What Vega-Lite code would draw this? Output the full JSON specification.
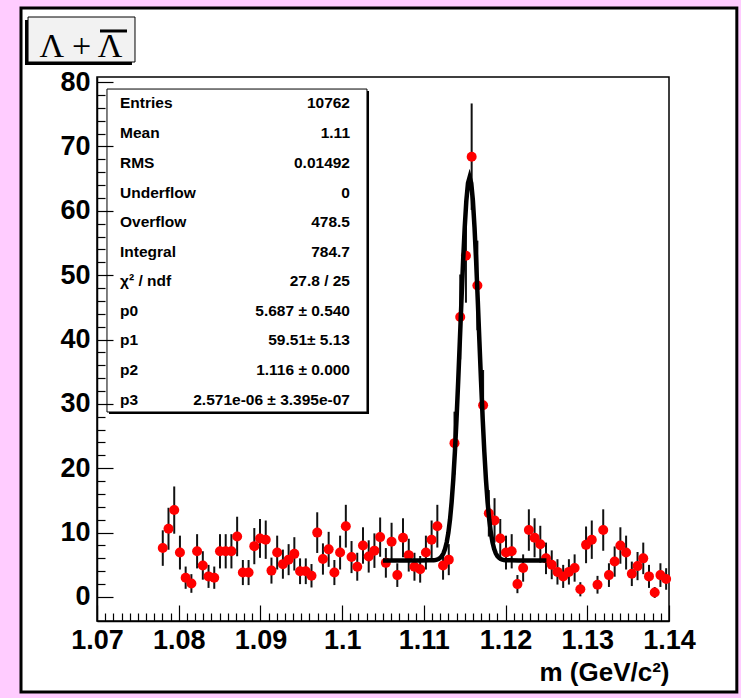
{
  "$schema": "https://vega.github.io/schema/vega-lite/v6.json",
  "width": 572,
  "height": 544,
  "autosize": "none",
  "padding": {"left": 97, "top": 77, "right": 72, "bottom": 77},
  "background": "#ffccff",
  "config": {
    "view": {"stroke": null, "fill": null},
    "axis": {"grid": false, "domainColor": "black", "domainWidth": 1.5, "tickColor": "black", "tickWidth": 1.2, "labelColor": "black", "titleColor": "black"}
  },
  "datasets": {
    "pad": [{"x": 1.0607, "x2": 1.1483, "y": -14.76, "y2": 91.5}],
    "frame": [{"x": 1.07, "x2": 1.14, "y": -3.73, "y2": 80.78}],
    "titleshadow": [{"x": 1.06119, "x2": 1.07428, "y": 82.64, "y2": 89.63}],
    "titlebox": [{"x": 1.06156, "x2": 1.07465, "y": 83.11, "y2": 90.10}],
    "titletext": [{"x": 1.06804, "y": 83.96, "label": "Λ + Λ"}],
    "titlebar": [{"x": 1.070367, "x2": 1.073671, "y": 87.93}],
    "statsshadow": [{"x": 1.07147, "x2": 1.10329, "y": 28.43, "y2": 78.60}],
    "statsbox": [{"x": 1.07122, "x2": 1.10304, "y": 28.74, "y2": 78.91}],
    "statslabels": [
      {"x": 1.072815, "y": 76.74, "text": "Entries"},
      {"x": 1.072815, "y": 72.08, "text": "Mean"},
      {"x": 1.072815, "y": 67.42, "text": "RMS"},
      {"x": 1.072815, "y": 62.76, "text": "Underflow"},
      {"x": 1.072815, "y": 58.25, "text": "Overflow"},
      {"x": 1.072815, "y": 53.59, "text": "Integral"},
      {"x": 1.072815, "y": 49.09, "text": "χ² / ndf"},
      {"x": 1.072815, "y": 44.43, "text": "p0"},
      {"x": 1.072815, "y": 39.92, "text": "p1"},
      {"x": 1.072815, "y": 35.26, "text": "p2"},
      {"x": 1.072815, "y": 30.60, "text": "p3"}
    ],
    "statsvalues": [
      {"x": 1.100961, "y": 76.74, "text": "10762"},
      {"x": 1.100961, "y": 72.08, "text": "1.11"},
      {"x": 1.100961, "y": 67.42, "text": "0.01492"},
      {"x": 1.100961, "y": 62.76, "text": "0"},
      {"x": 1.100961, "y": 58.25, "text": "478.5"},
      {"x": 1.100961, "y": 53.59, "text": "784.7"},
      {"x": 1.100961, "y": 49.09, "text": "27.8 / 25"},
      {"x": 1.100961, "y": 44.43, "text": "5.687 ± 0.540"},
      {"x": 1.100961, "y": 39.92, "text": "59.51± 5.13"},
      {"x": 1.100961, "y": 35.26, "text": "1.116 ± 0.000"},
      {"x": 1.100961, "y": 30.60, "text": "2.571e-06 ± 3.395e-07"}
    ],
    "hist": [
      {"x": 1.07805, "y": 7.6, "err": 2.76},
      {"x": 1.07875, "y": 10.6, "err": 3.26},
      {"x": 1.07945, "y": 13.5, "err": 3.67},
      {"x": 1.08015, "y": 6.9, "err": 2.63},
      {"x": 1.08085, "y": 3.0, "err": 1.73},
      {"x": 1.08155, "y": 2.1, "err": 1.45},
      {"x": 1.08225, "y": 7.1, "err": 2.66},
      {"x": 1.08295, "y": 4.9, "err": 2.21},
      {"x": 1.08365, "y": 3.2, "err": 1.79},
      {"x": 1.08435, "y": 3.0, "err": 1.73},
      {"x": 1.08505, "y": 7.1, "err": 2.66},
      {"x": 1.08575, "y": 7.1, "err": 2.66},
      {"x": 1.08645, "y": 7.1, "err": 2.66},
      {"x": 1.08715, "y": 9.4, "err": 3.07},
      {"x": 1.08785, "y": 3.8, "err": 1.95},
      {"x": 1.08855, "y": 3.8, "err": 1.95},
      {"x": 1.08925, "y": 7.9, "err": 2.81},
      {"x": 1.08995, "y": 9.1, "err": 3.02},
      {"x": 1.09065, "y": 8.9, "err": 2.98},
      {"x": 1.09135, "y": 4.1, "err": 2.02},
      {"x": 1.09205, "y": 6.9, "err": 2.63},
      {"x": 1.09275, "y": 5.1, "err": 2.26},
      {"x": 1.09345, "y": 5.8, "err": 2.41},
      {"x": 1.09415, "y": 6.7, "err": 2.59},
      {"x": 1.09485, "y": 4.0, "err": 2.0},
      {"x": 1.09555, "y": 4.0, "err": 2.0},
      {"x": 1.09625, "y": 3.3, "err": 1.82},
      {"x": 1.09695, "y": 10.0, "err": 3.16},
      {"x": 1.09765, "y": 5.9, "err": 2.43},
      {"x": 1.09835, "y": 7.4, "err": 2.72},
      {"x": 1.09905, "y": 3.8, "err": 1.95},
      {"x": 1.09975, "y": 6.9, "err": 2.63},
      {"x": 1.10045, "y": 11.0, "err": 3.32},
      {"x": 1.10115, "y": 6.2, "err": 2.49},
      {"x": 1.10185, "y": 4.7, "err": 2.17},
      {"x": 1.10255, "y": 8.0, "err": 2.83},
      {"x": 1.10325, "y": 6.3, "err": 2.51},
      {"x": 1.10395, "y": 7.2, "err": 2.68},
      {"x": 1.10465, "y": 9.3, "err": 3.05},
      {"x": 1.10535, "y": 5.3, "err": 2.3},
      {"x": 1.10605, "y": 8.6, "err": 2.93},
      {"x": 1.10675, "y": 3.4, "err": 1.84},
      {"x": 1.10745, "y": 9.2, "err": 3.03},
      {"x": 1.10815, "y": 6.5, "err": 2.55},
      {"x": 1.10885, "y": 4.7, "err": 2.17},
      {"x": 1.10955, "y": 4.3, "err": 2.07},
      {"x": 1.11025, "y": 6.9, "err": 2.63},
      {"x": 1.11095, "y": 8.9, "err": 2.98},
      {"x": 1.11165, "y": 11.0, "err": 3.32},
      {"x": 1.11235, "y": 4.9, "err": 2.21},
      {"x": 1.11305, "y": 5.8, "err": 2.41},
      {"x": 1.11375, "y": 23.9, "err": 4.89},
      {"x": 1.11445, "y": 43.5, "err": 6.6},
      {"x": 1.11515, "y": 53.0, "err": 7.28},
      {"x": 1.11585, "y": 68.4, "err": 8.27},
      {"x": 1.11655, "y": 48.4, "err": 6.96},
      {"x": 1.11725, "y": 29.8, "err": 5.46},
      {"x": 1.11795, "y": 13.0, "err": 3.61},
      {"x": 1.11865, "y": 11.9, "err": 3.45},
      {"x": 1.11935, "y": 9.1, "err": 3.02},
      {"x": 1.12005, "y": 6.9, "err": 2.63},
      {"x": 1.12075, "y": 7.1, "err": 2.66},
      {"x": 1.12145, "y": 2.0, "err": 1.41},
      {"x": 1.12215, "y": 4.5, "err": 2.12},
      {"x": 1.12285, "y": 10.4, "err": 3.22},
      {"x": 1.12355, "y": 9.2, "err": 3.03},
      {"x": 1.12425, "y": 8.2, "err": 2.86},
      {"x": 1.12495, "y": 6.0, "err": 2.45},
      {"x": 1.12565, "y": 5.0, "err": 2.24},
      {"x": 1.12635, "y": 3.9, "err": 1.97},
      {"x": 1.12705, "y": 3.2, "err": 1.79},
      {"x": 1.12775, "y": 3.9, "err": 1.97},
      {"x": 1.12845, "y": 4.5, "err": 2.12},
      {"x": 1.12915, "y": 1.2, "err": 1.1},
      {"x": 1.12985, "y": 8.1, "err": 2.85},
      {"x": 1.13055, "y": 8.9, "err": 2.98},
      {"x": 1.13125, "y": 1.9, "err": 1.38},
      {"x": 1.13195, "y": 10.4, "err": 3.22},
      {"x": 1.13265, "y": 3.4, "err": 1.84},
      {"x": 1.13335, "y": 5.5, "err": 2.35},
      {"x": 1.13405, "y": 8.0, "err": 2.83},
      {"x": 1.13475, "y": 6.9, "err": 2.63},
      {"x": 1.13545, "y": 3.6, "err": 1.9},
      {"x": 1.13615, "y": 4.8, "err": 2.19},
      {"x": 1.13685, "y": 6.0, "err": 2.45},
      {"x": 1.13755, "y": 3.2, "err": 1.79},
      {"x": 1.13825, "y": 0.7, "err": 0.84},
      {"x": 1.13895, "y": 3.4, "err": 1.84},
      {"x": 1.13965, "y": 2.8, "err": 1.67}
    ],
    "fit": [
      {"x": 1.105, "y": 5.687},
      {"x": 1.1096, "y": 5.687},
      {"x": 1.1106, "y": 5.691},
      {"x": 1.1110, "y": 5.703},
      {"x": 1.1112, "y": 5.719},
      {"x": 1.1114, "y": 5.749},
      {"x": 1.1116, "y": 5.805},
      {"x": 1.1118, "y": 5.904},
      {"x": 1.1120, "y": 6.072},
      {"x": 1.1122, "y": 6.351},
      {"x": 1.1124, "y": 6.796},
      {"x": 1.1126, "y": 7.483},
      {"x": 1.1128, "y": 8.507},
      {"x": 1.1130, "y": 9.979},
      {"x": 1.1132, "y": 12.02},
      {"x": 1.1134, "y": 14.745},
      {"x": 1.1136, "y": 18.245},
      {"x": 1.1138, "y": 22.564},
      {"x": 1.1140, "y": 27.674},
      {"x": 1.1142, "y": 33.453},
      {"x": 1.1144, "y": 39.677},
      {"x": 1.1146, "y": 46.021},
      {"x": 1.1148, "y": 52.084},
      {"x": 1.1150, "y": 57.421},
      {"x": 1.1152, "y": 61.606},
      {"x": 1.1154, "y": 64.278},
      {"x": 1.1156, "y": 65.197},
      {"x": 1.1158, "y": 64.278},
      {"x": 1.1160, "y": 61.606},
      {"x": 1.1162, "y": 57.421},
      {"x": 1.1164, "y": 52.084},
      {"x": 1.1166, "y": 46.021},
      {"x": 1.1168, "y": 39.677},
      {"x": 1.1170, "y": 33.453},
      {"x": 1.1172, "y": 27.674},
      {"x": 1.1174, "y": 22.564},
      {"x": 1.1176, "y": 18.245},
      {"x": 1.1178, "y": 14.745},
      {"x": 1.1180, "y": 12.02},
      {"x": 1.1182, "y": 9.979},
      {"x": 1.1184, "y": 8.507},
      {"x": 1.1186, "y": 7.483},
      {"x": 1.1188, "y": 6.796},
      {"x": 1.1190, "y": 6.351},
      {"x": 1.1192, "y": 6.072},
      {"x": 1.1194, "y": 5.904},
      {"x": 1.1196, "y": 5.805},
      {"x": 1.1198, "y": 5.749},
      {"x": 1.1200, "y": 5.719},
      {"x": 1.1202, "y": 5.703},
      {"x": 1.1206, "y": 5.691},
      {"x": 1.1216, "y": 5.687},
      {"x": 1.125, "y": 5.687}
    ]
  },
  "encoding": {
    "x": {
      "field": "x", "type": "quantitative",
      "scale": {"domain": [1.07, 1.14], "nice": false, "zero": false},
      "axis": {
        "zindex": 1,
        "title": "m (GeV/c²)",
        "orient": "bottom",
        "values": [1.07,1.071,1.072,1.073,1.074,1.075,1.076,1.077,1.078,1.079,1.08,1.081,1.082,1.083,1.084,1.085,1.086,1.087,1.088,1.089,1.09,1.091,1.092,1.093,1.094,1.095,1.096,1.097,1.098,1.099,1.1,1.101,1.102,1.103,1.104,1.105,1.106,1.107,1.108,1.109,1.11,1.111,1.112,1.113,1.114,1.115,1.116,1.117,1.118,1.119,1.12,1.121,1.122,1.123,1.124,1.125,1.126,1.127,1.128,1.129,1.13,1.131,1.132,1.133,1.134,1.135,1.136,1.137,1.138,1.139,1.14],
        "format": ".3~g",
        "labelExpr": "abs(datum.value*100-round(datum.value*100))<0.001 ? datum.label : ''",
        "tickSize": {"condition": {"test": "abs(datum.value*100-round(datum.value*100))<0.001", "value": -16}, "value": -8},
        "labelOverlap": false,
        "labelFlush": false,
        "labelBound": false,
        "labelFont": "Liberation Sans",
        "labelFontSize": 27,
        "labelFontWeight": "bold",
        "labelPadding": 22,
        "titleFont": "Liberation Sans",
        "titleFontSize": 26,
        "titleFontWeight": "bold",
        "titleAnchor": "end",
        "titlePadding": -2
      }
    },
    "y": {
      "field": "y", "type": "quantitative",
      "scale": {"domain": [-3.73, 80.78], "nice": false, "zero": false},
      "axis": {
        "zindex": 1,
        "title": null,
        "orient": "left",
        "values": [0,2,4,6,8,10,12,14,16,18,20,22,24,26,28,30,32,34,36,38,40,42,44,46,48,50,52,54,56,58,60,62,64,66,68,70,72,74,76,78,80],
        "format": "d",
        "labelExpr": "datum.value % 10 == 0 ? datum.label : ''",
        "tickSize": {"condition": {"test": "datum.value % 10 == 0", "value": -16}, "value": -8},
        "labelOverlap": false,
        "labelFlush": false,
        "labelBound": false,
        "labelFont": "Liberation Sans",
        "labelFontSize": 27,
        "labelFontWeight": "bold",
        "labelPadding": 23
      }
    }
  },
  "layer": [
    {"data": {"name": "pad"}, "mark": {"type": "rect", "fill": "white", "stroke": "black", "strokeWidth": 3},
     "encoding": {"x2": {"field": "x2"}, "y2": {"field": "y2"}}},
    {"data": {"name": "frame"}, "mark": {"type": "rect", "fill": null, "stroke": "black", "strokeWidth": 1.5},
     "encoding": {"x2": {"field": "x2"}, "y2": {"field": "y2"}}},
    {"data": {"name": "titleshadow"}, "mark": {"type": "rect", "fill": "black"},
     "encoding": {"x2": {"field": "x2"}, "y2": {"field": "y2"}}},
    {"data": {"name": "titlebox"}, "mark": {"type": "rect", "fill": "#f2f2f2", "stroke": "black", "strokeWidth": 1},
     "encoding": {"x2": {"field": "x2"}, "y2": {"field": "y2"}}},
    {"data": {"name": "titletext"}, "mark": {"type": "text", "font": "Liberation Serif", "fontSize": 34, "align": "center", "baseline": "alphabetic", "color": "black"},
     "encoding": {"text": {"field": "label"}}},
    {"data": {"name": "titlebar"}, "mark": {"type": "rule", "color": "black", "strokeWidth": 3},
     "encoding": {"x2": {"field": "x2"}}},
    {"data": {"name": "hist"}, "mark": {"type": "errorbar", "color": "#111", "thickness": 2},
     "encoding": {"yError": {"field": "err"}}},
    {"data": {"name": "hist"}, "mark": {"type": "circle", "color": "#ff0000", "size": 100, "opacity": 1}},
    {"data": {"name": "fit"}, "mark": {"type": "line", "color": "black", "strokeWidth": 4.5}},
    {"data": {"name": "statsshadow"}, "mark": {"type": "rect", "fill": "black"},
     "encoding": {"x2": {"field": "x2"}, "y2": {"field": "y2"}}},
    {"data": {"name": "statsbox"}, "mark": {"type": "rect", "fill": "white", "stroke": "black", "strokeWidth": 1},
     "encoding": {"x2": {"field": "x2"}, "y2": {"field": "y2"}}},
    {"data": {"name": "statslabels"}, "mark": {"type": "text", "font": "Liberation Sans", "fontSize": 15.5, "fontWeight": "bold", "align": "left", "baseline": "middle", "color": "black"},
     "encoding": {"text": {"field": "text"}}},
    {"data": {"name": "statsvalues"}, "mark": {"type": "text", "font": "Liberation Sans", "fontSize": 15.5, "fontWeight": "bold", "align": "right", "baseline": "middle", "color": "black"},
     "encoding": {"text": {"field": "text"}}}
  ]
}
